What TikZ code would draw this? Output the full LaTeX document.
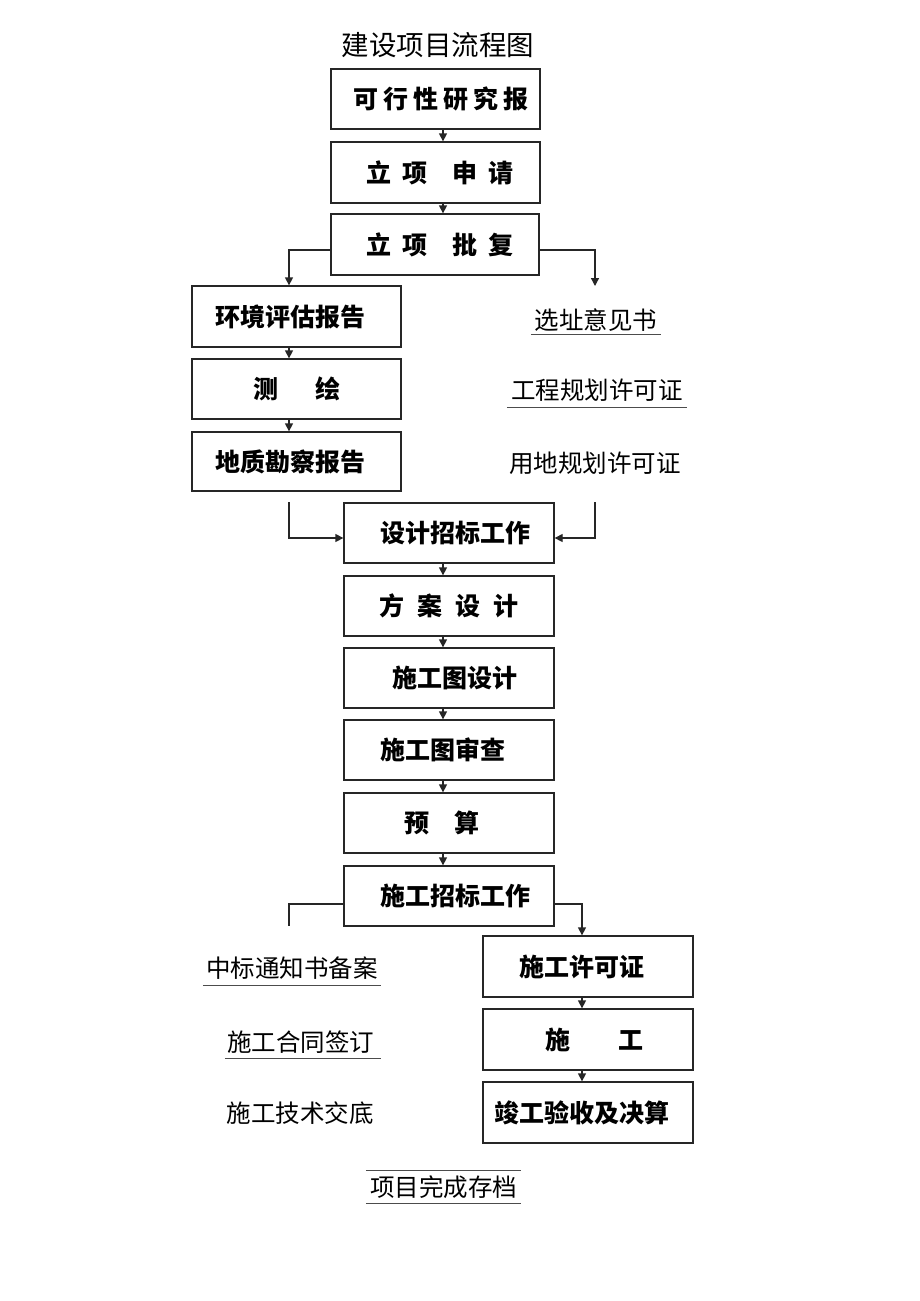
\documentclass[tikz,border=0pt]{standalone}
\usepackage{fontspec}
\newfontfamily\cjk{Noto Sans CJK SC}
\usetikzlibrary{arrows.meta}
\newcommand\gp[1]{\hspace*{#1pt}}
\begin{document}
\begin{tikzpicture}[x=1pt,y=-1pt,
 box/.style={draw=black!85,line width=1.3pt,minimum width=209pt,minimum height=60pt,inner sep=0pt,font=\cjk\bfseries\fontsize{25}{25}\selectfont},
 lbl/.style={inner sep=0pt,font=\cjk\fontsize{24.5}{24.5}\selectfont},
 ttl/.style={inner sep=0pt,font=\cjk\fontsize{27.5}{27.5}\selectfont},
 arr/.style={line width=1.3pt,black!85,-{Triangle[width=8pt,length=8pt]}},
 ln/.style={line width=1.3pt,black!85},
 ul/.style={line width=1.3pt,black!70}]
\useasboundingbox[fill=white] (0,0) rectangle (920,1301);
% title
\node[ttl] (title) at (438,45) {建设项目流程图};
% boxes
\node[box] (b1) at (435.5,99) {\gp{11}可\gp{5}行\gp{5}性\gp{5}研\gp{5}究\gp{5}报};
\node[box,minimum height=61pt] (b2) at (435.5,172.5) {\gp{9}立\gp{11}项\gp{25}申\gp{11}请};
\node[box,minimum width=208pt,minimum height=61pt] (b3) at (435,244.5) {\gp{9}立\gp{11}项\gp{25}批\gp{11}复};
\node[box,minimum height=61pt] (b4) at (296.5,316.5) {环境评估报告\gp{13}};
\node[box] (b5) at (296.5,389) {测\gp{37}绘};
\node[box,minimum height=59pt] (b6) at (296.5,461.5) {地质勘察报告\gp{13}};
\node[box,minimum width=210pt] (b7) at (449,533) {\gp{12}设计招标工作};
\node[box,minimum width=210pt] (b8) at (449,606) {方\gp{13}案\gp{13}设\gp{13}计};
\node[box,minimum width=210pt] (b9) at (449,678) {\gp{12}施工图设计};
\node[box,minimum width=210pt] (b10) at (449,750) {施工图审查\gp{12}};
\node[box,minimum width=210pt] (b11) at (449,823) {预\gp{25}算\gp{14}};
\node[box,minimum width=210pt] (b12) at (449,896) {\gp{12}施工招标工作};
\node[box,minimum width=210pt,minimum height=61pt] (b13) at (588,966.5) {施工许可证\gp{12}};
\node[box,minimum width=210pt,minimum height=61pt] (b14) at (588,1039.5) {\gp{12}施\gp{48}工};
\node[box,minimum width=210pt,minimum height=61pt] (b15) at (588,1112.5) {竣工验收及决算\gp{12}};
% labels
\node[lbl,minimum width=130pt,minimum height=28pt] (l1) at (596,320) {选址意见书};
\draw[ul] (l1.south west) -- (l1.south east);
\node[lbl,minimum width=180pt,minimum height=34pt] (l2) at (597,390) {工程规划许可证};
\draw[ul] (l2.south west) -- (l2.south east);
\node[lbl] (l3) at (595,463) {用地规划许可证};
\node[lbl,minimum width=178pt,minimum height=34pt] (l4) at (292,968) {中标通知书备案};
\draw[ul] (l4.south west) -- (l4.south east);
\node[lbl,minimum width=156pt,minimum height=32pt] (l5) at (303,1042) {施工合同签订\gp{5}};
\draw[ul] (l5.south west) -- (l5.south east);
\node[lbl] (l6) at (300,1113) {施工技术交底};
\node[lbl,minimum width=155pt,minimum height=32pt] (l7) at (443.5,1187) {项目完成存档};
\draw[ul] (l7.north west) -- (l7.north east);
\draw[ul] (l7.south west) -- (l7.south east);
% helper coordinates
\coordinate (ax) at (443,0);
\coordinate (bx) at (582,0);
\coordinate (lx) at (289,0);
\coordinate (s1) at (595,286);
\coordinate (c1) at (289,502);
\coordinate (c2) at (595,502);
\coordinate (c3) at (289,926);
% connectors
\draw[arr] (b1.south -| ax) -- (b2.north -| ax);
\draw[arr] (b2.south -| ax) -- (b3.north -| ax);
\draw[arr] ([yshift=-5.5pt]b3.west) -| (b4.north -| lx);
\draw[arr] ([yshift=-5.5pt]b3.east) -| (s1);
\draw[arr] (b4.south -| lx) -- (b5.north -| lx);
\draw[arr] (b5.south -| lx) -- (b6.north -| lx);
\draw[arr] (c1) |- ([yshift=-5pt]b7.west);
\draw[arr] (c2) |- ([yshift=-5pt]b7.east);
\draw[arr] (b7.south -| ax) -- (b8.north -| ax);
\draw[arr] (b8.south -| ax) -- (b9.north -| ax);
\draw[arr] (b9.south -| ax) -- (b10.north -| ax);
\draw[arr] (b10.south -| ax) -- (b11.north -| ax);
\draw[arr] (b11.south -| ax) -- (b12.north -| ax);
\draw[ln] ([yshift=-8pt]b12.west) -| (c3);
\draw[arr] ([yshift=-8pt]b12.east) -| (b13.north -| bx);
\draw[arr] (b13.south -| bx) -- (b14.north -| bx);
\draw[arr] (b14.south -| bx) -- (b15.north -| bx);
\end{tikzpicture}
\end{document}
